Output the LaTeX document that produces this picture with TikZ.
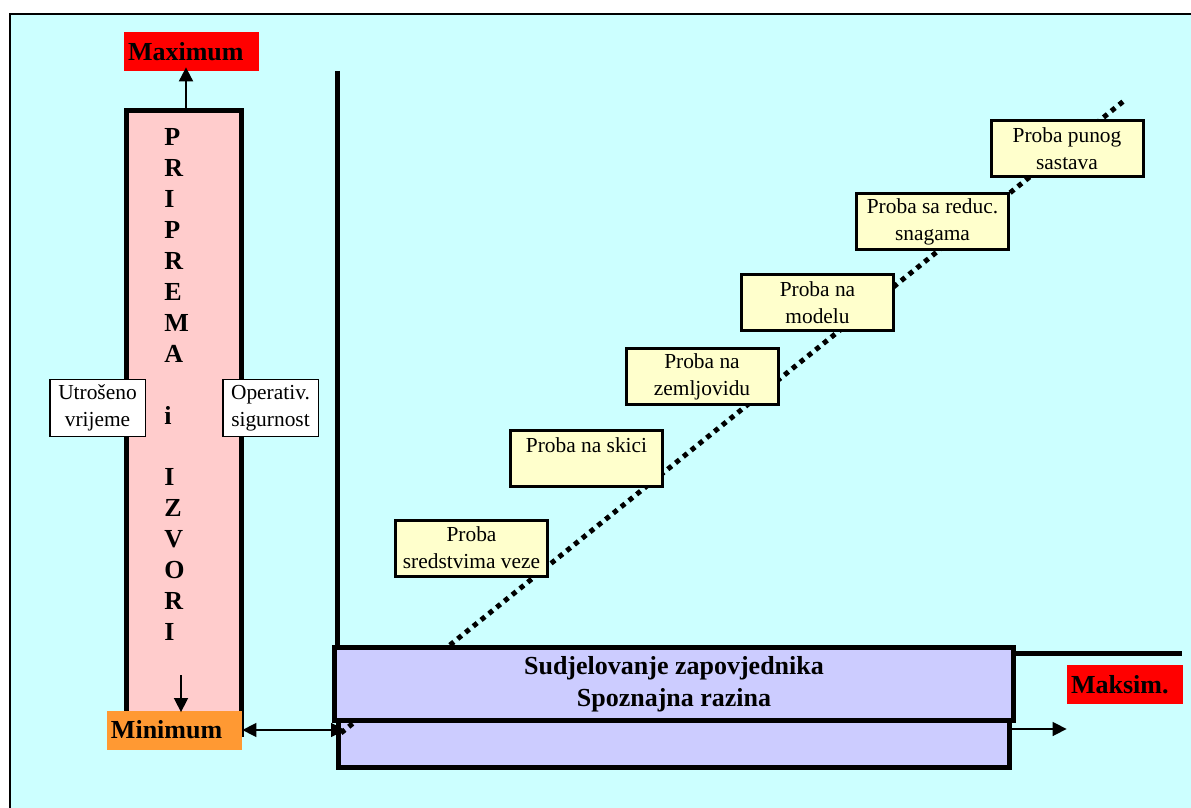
\documentclass[tikz,border=0pt]{standalone}
\usepackage{fontspec}
\setmainfont{Liberation Serif}
\usetikzlibrary{arrows.meta}

\definecolor{bgcyan}{HTML}{CCFFFF}
\definecolor{colpink}{HTML}{FFCCCC}
\definecolor{barblue}{HTML}{CCCCFF}
\definecolor{probeyellow}{HTML}{FFFFCC}
\definecolor{tagorange}{HTML}{FF9933}

\begin{document}
\begin{tikzpicture}[x=0.5pt, y=-0.5pt,
            inner sep=0pt,
            txt/.style={font=\fontsize{10.7}{13.5}\selectfont, align=center},
            probe/.style={txt, draw, line width=1.5pt, fill=probeyellow,
                minimum width=76pt, minimum height=28pt},
            side/.style={txt, draw, line width=0.75pt, fill=white,
                minimum width=47.75pt, minimum height=28.25pt},
            tag/.style={font=\bfseries\fontsize{13}{16}\selectfont, inner xsep=2pt,
                text width=63.5pt, align=left, minimum height=19.5pt},
            letter/.style={font=\bfseries\fontsize{13}{16}\selectfont, anchor=base west},
            bar/.style={draw, line width=2.5pt, fill=barblue},
            arr/.style={-{Triangle[length=7pt,width=7pt]}, line width=0.8pt},
            ]
            \useasboundingbox (0,0) rectangle (1191,808);
            % background
            \fill[bgcyan] (10,14) rectangle (1191,808);
            \draw[line width=0.75pt] (10,808) |- (1191,14);

            % left column
            \node[draw, line width=2.5pt, fill=colpink, minimum width=57.5pt,
                minimum height=312pt] (col) at (184,422.5) {};
            \foreach \ch/\k in {P/0,R/1,I/2,P/3,R/4,E/5,M/6,A/7,i/9,I/11,Z/12,V/13,O/14,R/15,I/16}
                \node[letter] (l\k) at (164,{146+30.9*\k}) {\ch};
            \node[side] (time) at (97.5,408) {Utrošeno\\vrijeme};
            \node[side] (safe) at (270.5,408) {Operativ.\\sigurnost};
            \node[tag, fill=red] (maxbox) at (191.5,51.5) {Maximum};
            \node[tag, fill=tagorange] (minbox) at (174.5,730) {Minimum};
            \node[tag, fill=red, text width=54pt] (maksbox) at (1125,684.5) {Maksim.};
            \coordinate (dn) at (181,675);
            \draw[arr, line width=1pt] (col.north -| 186,0) -- ([yshift=2pt]maxbox.south -| 186,0);
            \draw[arr] (dn) -- ([yshift=-1pt]dn |- minbox.north);

            % axes
            \coordinate (ytop) at (337,71);
            \coordinate (origin) at (337,653);
            \coordinate (xend) at (1182,653);
            \draw[line width=2.5pt] (ytop) -- (origin) -- (xend);

            \node[bar, minimum width=335.5pt, minimum height=38.5pt] (back) at (674,729) {};

            % trials line
            \coordinate (dstart) at (341,733);
            \coordinate (dend) at (1125,100);
            \draw[line width=2.5pt, dash pattern=on 2.5pt off 2.5pt] (dstart) -- (dend);

            \coordinate (hleft) at (345,730);
            \draw[arr, {Triangle[length=7pt,width=7pt]}-{Triangle[length=7pt,width=7pt]}] (minbox.east) -- (hleft);
            \draw[arr] (back.east) -- (back.east -| maksbox.west);

            \node[bar, minimum width=339.5pt, minimum height=36.5pt,
                font=\bfseries\fontsize{13}{16}\selectfont, align=center] (front) at (674,684)
                {Sudjelovanje zapovjednika\\Spoznajna razina};

            % trials
            \node[probe] (p1) at (471.5,548) {Proba\\sredstvima veze};
            \node[probe] (p2) at (586.5,458.5) {Proba na skici\\ \mbox{}};
            \node[probe] (p3) at (702,376.5) {Proba na\\zemljovidu};
            \node[probe] (p4) at (817.5,303) {Proba na\\modelu};
            \node[probe] (p5) at (932.5,221.5) {Proba sa reduc.\\snagama};
            \node[probe] (p6) at (1067,149) {Proba punog\\sastava};
        \end{tikzpicture}
\end{document}
